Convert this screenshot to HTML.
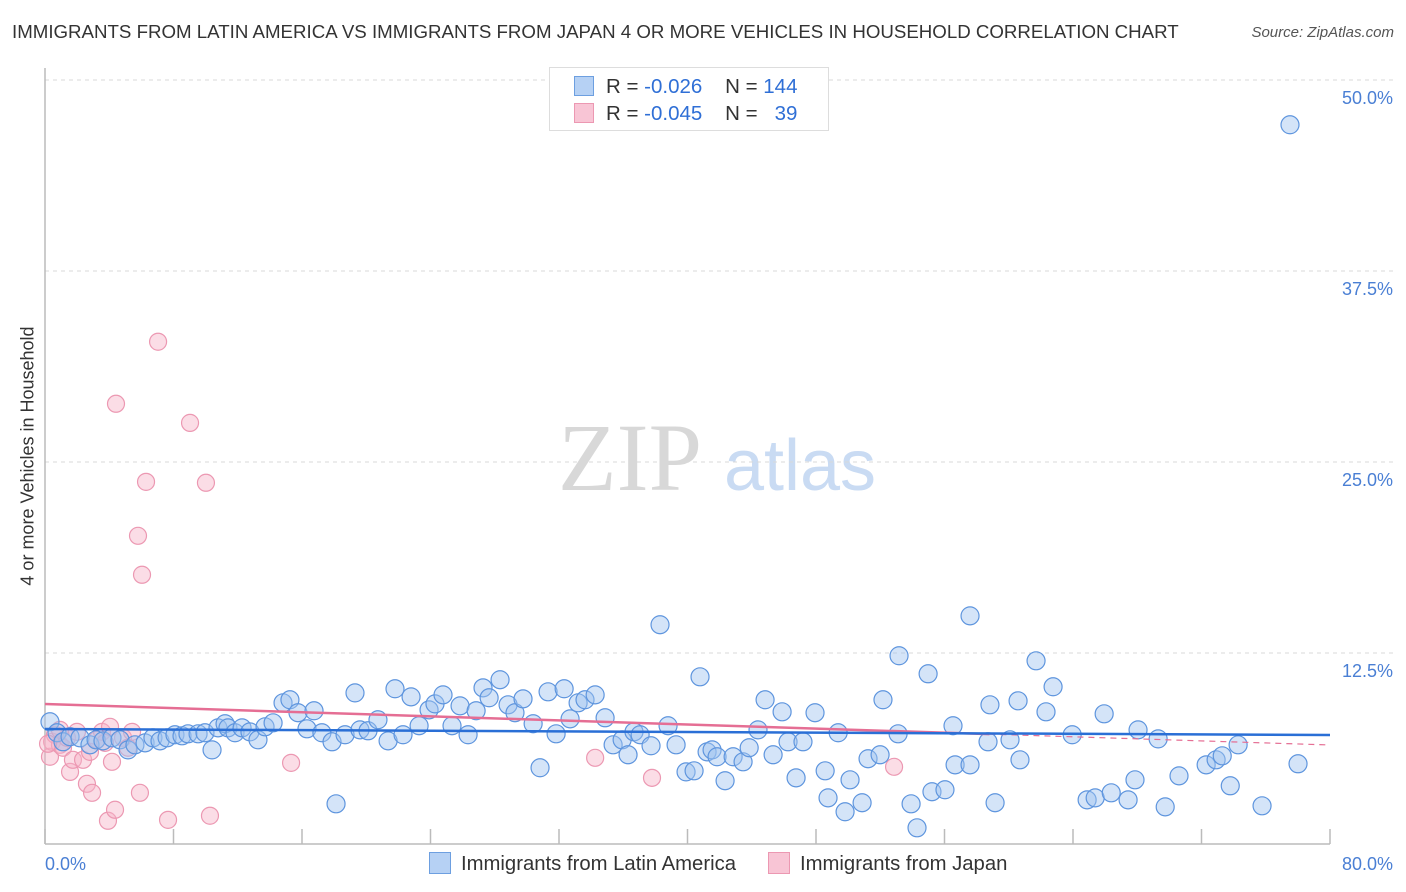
<!DOCTYPE html>
<html><head><meta charset="utf-8">
<style>
body{margin:0;background:#fff;font-family:"Liberation Sans",sans-serif;}
#wrap{position:relative;width:1406px;height:892px;overflow:hidden;}
.t{position:absolute;white-space:nowrap;}
</style></head><body>
<div id="wrap">
<div class="t" style="left:12px;top:21px;font-size:18.7px;color:#333;">IMMIGRANTS FROM LATIN AMERICA VS IMMIGRANTS FROM JAPAN 4 OR MORE VEHICLES IN HOUSEHOLD CORRELATION CHART</div>
<div class="t" style="right:12px;top:24px;font-size:15px;color:#555;font-style:italic;">Source: ZipAtlas.com</div>
<div class="t" style="left:28px;top:456px;font-size:18px;color:#333;transform:translate(-50%,-50%) rotate(-90deg);">4 or more Vehicles in Household</div>
<svg id="chart" width="1406" height="892" style="position:absolute;left:0;top:0"></svg>
</div>
<script>
const xTicks=[0,8,16,24,32,40,48,56,64,72,80];
const yTicks=[12.5,25,37.5,50];
const yTickLabels=["12.5%","25.0%","37.5%","50.0%"];
const xEndLabels=["0.0%","80.0%"];
const latamX=[0.31,0.75,1.12,1.56,2.18,2.80,3.18,3.61,4.17,4.67,5.17,5.60,6.23,6.72,7.16,7.60,8.09,8.53,8.90,9.53,9.96,10.40,10.77,11.21,11.39,11.83,12.27,12.76,13.26,13.70,14.20,14.82,15.25,15.75,16.31,16.75,17.24,17.87,18.12,18.68,19.30,19.61,20.11,20.73,21.36,21.79,22.29,22.79,23.29,23.91,24.28,24.78,25.34,25.84,26.34,26.84,27.27,27.65,28.33,28.83,29.26,29.76,30.39,30.82,31.32,31.82,32.32,32.69,33.19,33.62,34.25,34.87,35.37,35.93,36.30,36.67,37.05,37.73,38.29,38.79,39.29,39.91,40.41,40.78,41.22,41.53,41.84,42.34,42.84,43.46,43.84,44.39,44.83,45.33,45.89,46.26,46.76,47.19,47.94,48.57,48.75,49.38,49.81,50.12,50.87,51.24,51.99,52.17,53.17,53.11,53.92,54.29,54.98,55.22,56.03,56.53,56.66,57.59,57.59,58.71,58.83,59.15,60.08,60.58,60.70,61.70,62.32,62.76,63.95,64.88,65.38,66.38,65.94,67.43,67.86,68.05,69.30,69.74,70.60,72.29,72.91,73.29,73.79,74.28,75.77,77.51,78.01];
const latamY=[8.0,7.28,6.69,7.02,6.95,6.49,6.82,6.75,6.95,6.82,6.16,6.49,6.62,6.95,6.75,6.95,7.15,7.08,7.21,7.21,7.28,6.16,7.6,7.87,7.6,7.28,7.6,7.34,6.82,7.67,7.93,9.24,9.44,8.59,7.54,8.72,7.28,6.69,2.63,7.15,9.89,7.47,7.41,8.13,6.75,10.16,7.15,9.63,7.74,8.78,9.17,9.76,7.74,9.04,7.15,8.72,10.22,9.57,10.75,9.11,8.59,9.5,7.87,4.99,9.96,7.21,10.16,8.19,9.24,9.44,9.76,8.26,6.49,6.82,5.84,7.34,7.15,6.43,14.35,7.74,6.49,4.72,4.79,10.94,6.03,6.16,5.71,4.14,5.71,5.38,6.3,7.47,9.44,5.84,8.65,6.69,4.33,6.69,8.59,4.79,3.02,7.28,2.11,4.2,2.7,5.58,5.84,9.44,12.32,7.21,2.63,1.06,11.14,3.42,3.55,7.74,5.18,5.18,14.93,6.69,9.11,2.7,6.82,9.37,5.51,11.99,8.65,10.29,7.15,2.89,3.02,3.35,8.52,2.89,4.2,7.47,6.88,2.43,4.46,5.18,5.51,5.77,3.81,6.49,2.5,47.07,5.25];
const japanX=[0.31,0.44,0.62,0.93,1.12,1.37,1.56,1.74,1.99,2.37,2.61,2.80,2.93,3.24,3.55,3.74,3.92,4.05,4.17,4.36,4.42,4.86,5.17,5.42,5.91,6.04,5.79,6.29,7.04,7.66,9.03,10.02,10.27,15.32,34.25,37.79,52.86,0.19,0.93];
const japanY=[5.71,6.69,7.15,6.49,6.3,6.95,4.72,5.51,7.34,5.51,3.94,6.03,3.35,6.82,7.34,6.62,1.52,7.67,5.38,2.24,28.81,6.95,6.3,7.34,3.35,17.62,20.17,23.7,32.87,1.58,27.56,23.64,1.85,5.31,5.64,4.33,5.05,6.56,7.47];
const latamTrend=[7.53,7.13];
const japanTrend=[9.16,6.48];
const japanSolidEnd=58.8;

const NS="http://www.w3.org/2000/svg";
const svg=document.getElementById('chart');
const L=45,R=1330,B=844,PX=191/12.5;
const sx=v=>L+(R-L)*v/80, sy=v=>B-v*PX;
function mk(tag,attrs,parent){const e=document.createElementNS(NS,tag);for(const k in attrs)e.setAttribute(k,attrs[k]);(parent||svg).appendChild(e);return e;}
function txt(s,x,y,attrs){const e=mk('text',Object.assign({x:x,y:y},attrs));e.textContent=s;return e;}

let wm=txt('ZIP',630,490,{'font-family':'Liberation Serif,serif','font-size':96,fill:'#d8d8d8','text-anchor':'middle'});


let wm2=txt('atlas',800,490,{'font-family':'Liberation Sans,sans-serif','font-size':72,fill:'#c9dbf3','text-anchor':'middle'});



yTicks.forEach((v,i)=>{
 const y=sy(v);
 const g=mk('line',{x1:L,x2:1394,y1:y,y2:y,stroke:'#d8d8d8','stroke-dasharray':'4,4','stroke-width':1});
 
 
 const t=txt(yTickLabels[i],1393,y+24,{'font-size':18,fill:'#4a7fd4','text-anchor':'end'});
 
 
});
let ax=mk('line',{x1:L,x2:R,y1:B,y2:B,stroke:'#bbb','stroke-width':1.5});


let ay=mk('line',{x1:L,x2:L,y1:68,y2:B,stroke:'#bbb','stroke-width':1.5});


xTicks.forEach(v=>{
 const tk=mk('line',{x1:sx(v),x2:sx(v),y1:B-15,y2:B,stroke:'#bbb','stroke-width':1.5});
 
 
});
let xl0=txt(xEndLabels[0],45,870,{'font-size':18,fill:'#4a7fd4'});


let xl1=txt(xEndLabels[1],1393,870,{'font-size':18,fill:'#4a7fd4','text-anchor':'end'});



japanX.forEach((x,i)=>{
 const c=mk('circle',{cx:sx(x),cy:sy(japanY[i]),r:8.5,fill:'rgba(246,180,200,0.45)',stroke:'#ec98b2','stroke-width':1.2});
 
 
});
latamX.forEach((x,i)=>{
 const c=mk('circle',{cx:sx(x),cy:sy(latamY[i]),r:9,fill:'rgba(160,196,240,0.45)',stroke:'#5e95de','stroke-width':1.2});
 
 
});
const jAt=x=>japanTrend[0]+(japanTrend[1]-japanTrend[0])*x/80;
let pt=mk('line',{x1:sx(0),y1:sy(japanTrend[0]),x2:sx(japanSolidEnd),y2:sy(jAt(japanSolidEnd)),stroke:'#e56e94','stroke-width':2.5});


let pd=mk('line',{x1:sx(japanSolidEnd),y1:sy(jAt(japanSolidEnd)),x2:sx(80),y2:sy(japanTrend[1]),stroke:'#e56e94','stroke-width':1.2,'stroke-dasharray':'6,5'});


let bt=mk('line',{x1:sx(0),y1:sy(latamTrend[0]),x2:sx(80),y2:sy(latamTrend[1]),stroke:'#2a6fd6','stroke-width':2.5});


</script>

<div class="t" style="left:549px;top:67px;width:278px;height:62px;border:1px solid #ddd;background:#fff;font-size:20.5px;color:#333;">
 <div style="position:absolute;left:24px;top:7px;"><span style="display:inline-block;width:18px;height:18px;background:#b6d1f4;border:1px solid #6d9fe0;vertical-align:-3px;margin-right:12px"></span>R = <span style="color:#2f6fd6">-0.026</span>&nbsp;&nbsp;&nbsp; N = <span style="color:#2f6fd6">144</span></div>
 <div style="position:absolute;left:24px;top:34px;"><span style="display:inline-block;width:18px;height:18px;background:#f8c5d5;border:1px solid #ec98b2;vertical-align:-3px;margin-right:12px"></span>R = <span style="color:#2f6fd6">-0.045</span>&nbsp;&nbsp;&nbsp; N = &nbsp;&nbsp;<span style="color:#2f6fd6">39</span></div>
</div>
<div class="t" style="left:429px;top:852px;font-size:20.3px;color:#333;"><span style="display:inline-block;width:20px;height:20px;background:#b6d1f4;border:1px solid #6d9fe0;vertical-align:-4px;margin-right:10px"></span>Immigrants from Latin America</div>
<div class="t" style="left:768px;top:852px;font-size:20.3px;color:#333;"><span style="display:inline-block;width:20px;height:20px;background:#f8c5d5;border:1px solid #ec98b2;vertical-align:-4px;margin-right:10px"></span>Immigrants from Japan</div>
</body></html>
